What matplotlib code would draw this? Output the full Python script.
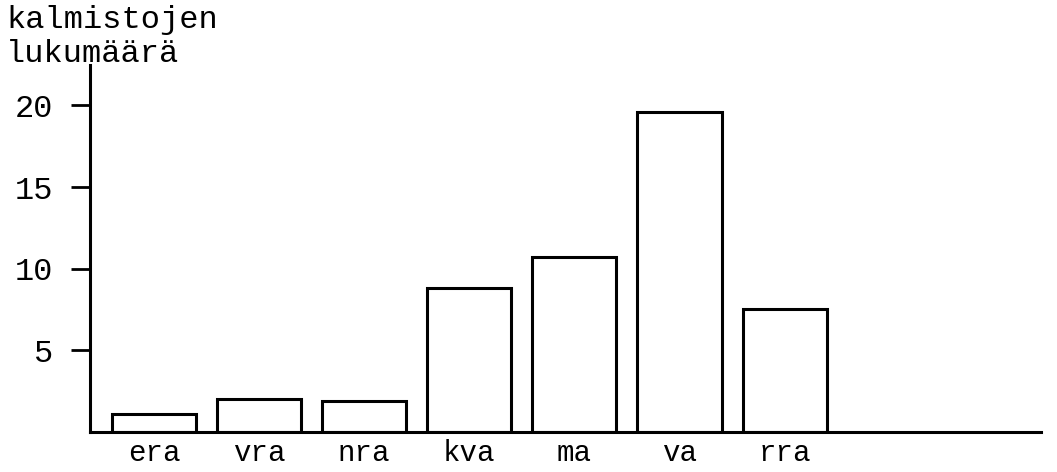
import matplotlib.pyplot as plt
import numpy as np

categories = ['era', 'vra', 'nra', 'kva', 'ma', 'va', 'rra']
counts = [1.1, 2.0, 1.9, 8.8, 10.7, 19.6, 7.5]
yticks = [5, 10, 15, 20]
ylabel = 'kalmistojen\nlukumäärä'

plt.rcParams['font.family'] = ['Liberation Mono', 'DejaVu Sans Mono']

fig = plt.figure(figsize=(10.57, 4.72), dpi=100)
ax = fig.add_axes([0.085, 0.085, 0.900, 0.778])

x = np.arange(len(categories))
ax.bar(x, counts, width=0.8, facecolor='white', edgecolor='black',
       linewidth=2.2)

ax.set_xlim(-0.61, 8.44)
ax.set_ylim(0, 22.5)
ax.set_yticks(yticks)
ax.set_yticklabels([str(t) for t in yticks], fontsize=23)
ax.set_xticks(x)
ax.set_xticklabels(categories, fontsize=21)

ax.spines['top'].set_visible(False)
ax.spines['right'].set_visible(False)
ax.spines['left'].set_linewidth(2.2)
ax.spines['bottom'].set_linewidth(2.2)
ax.tick_params(axis='y', length=14, width=2.0, pad=12)
ax.tick_params(axis='x', length=0, pad=5)

fig.text(0.006, 0.99, ylabel, fontsize=23, va='top', ha='left',
         linespacing=1.2)

plt.savefig('out.png', dpi=100)
